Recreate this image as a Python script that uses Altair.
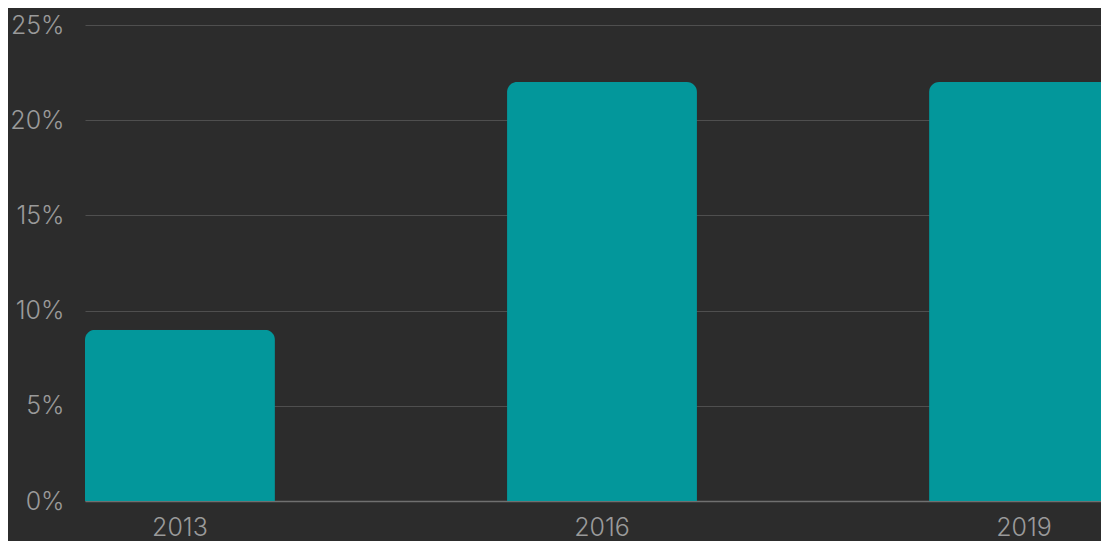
import altair as alt
import pandas as pd

years = ["2013", "2016", "2019"]
shares = [0.09, 0.22, 0.22]

df = pd.DataFrame({"year": years, "share": shares})

FONT = "Inter"
LABEL = "#9a9a9a"

chart = (
    alt.Chart(df)
    .mark_bar(color="#03979b", cornerRadiusTopLeft=10, cornerRadiusTopRight=10)
    .encode(
        x=alt.X(
            "year:N",
            sort=years,
            scale=alt.Scale(paddingInner=0.55, paddingOuter=0),
            axis=alt.Axis(
                title=None, labelAngle=0, ticks=False, domain=True, domainColor="#707070",
                domainWidth=1.5, labelPadding=14, labelFontSize=25, labelFont=FONT,
                labelFontWeight=300, labelColor=LABEL, grid=False,
            ),
        ),
        y=alt.Y(
            "share:Q",
            scale=alt.Scale(domain=[0, 0.25], nice=False),
            axis=alt.Axis(
                title=None, format=".0%", values=[0, 0.05, 0.10, 0.15, 0.20, 0.25],
                ticks=False, domain=False, labelPadding=21, labelFontSize=25,
                labelFont=FONT, labelFontWeight=300, labelColor=LABEL,
                gridColor="#4f4f4f", gridWidth=1.2,
            ),
        ),
    )
    .properties(
        width=1034,
        height=476,
        autosize=alt.AutoSizeParams(type="none"),
        padding={"left": 77, "top": 17, "right": -18, "bottom": 40},
        background="#2c2c2c",
    )
    .configure_view(stroke=None)
)

chart.save("out.html", embed_options={"renderer": "svg", "actions": False})
